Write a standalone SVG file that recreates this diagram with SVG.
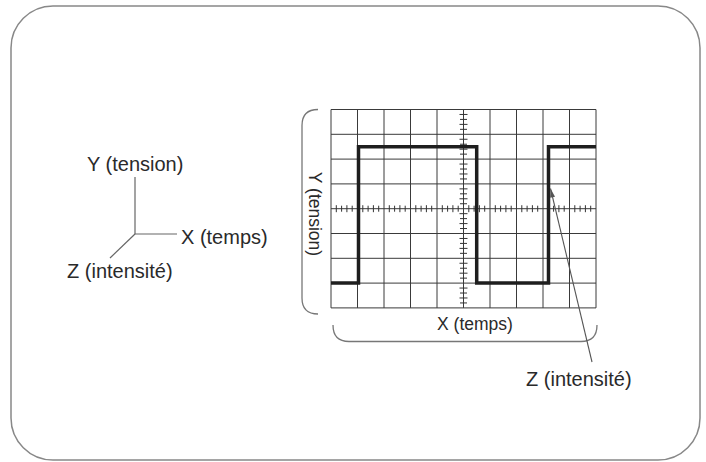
<svg xmlns="http://www.w3.org/2000/svg" width="706" height="462" viewBox="0 0 706 462">
<style>
  .lbl { font-family: "Liberation Sans", Arial, sans-serif; fill: #2a2a2a; }
  .big { font-size: 20px; }
  .small { font-size: 17.5px; }
  .grid line { stroke: #3a3a3a; stroke-width: 1; }
  .axis { stroke: #666; stroke-width: 1.2; fill: none; }
  .brace { stroke: #777; stroke-width: 1.3; fill: none; }
  .tick { stroke: #333; stroke-width: 1; }
</style>
<defs>
  <marker id="arr" markerWidth="10" markerHeight="8" refX="9" refY="3" orient="auto" markerUnits="userSpaceOnUse">
    <path d="M0,0.5 L9,3 L0,5.5 Z" fill="#555"/>
  </marker>
</defs>
<rect x="11" y="6" width="689" height="454" rx="42" ry="42" fill="#fff" stroke="#888" stroke-width="1.5"/>

<g id="axes-legend">
  <line class="axis" x1="135" y1="177" x2="135" y2="234"/>
  <line class="axis" x1="135" y1="234" x2="177" y2="234"/>
  <line class="axis" x1="135" y1="234" x2="110" y2="258"/>
  <text class="lbl big" x="87" y="171">Y (tension)</text>
  <text class="lbl big" x="181" y="244">X (temps)</text>
  <text class="lbl big" x="67" y="278">Z (intensité)</text>
</g>

<g id="screen">
  <g class="grid">
    <line x1="331" y1="109.5" x2="331" y2="307.9"/>
    <line x1="357.5" y1="109.5" x2="357.5" y2="307.9"/>
    <line x1="384" y1="109.5" x2="384" y2="307.9"/>
    <line x1="410.5" y1="109.5" x2="410.5" y2="307.9"/>
    <line x1="437" y1="109.5" x2="437" y2="307.9"/>
    <line x1="463.5" y1="109.5" x2="463.5" y2="307.9"/>
    <line x1="490" y1="109.5" x2="490" y2="307.9"/>
    <line x1="516.5" y1="109.5" x2="516.5" y2="307.9"/>
    <line x1="543" y1="109.5" x2="543" y2="307.9"/>
    <line x1="569.5" y1="109.5" x2="569.5" y2="307.9"/>
    <line x1="596" y1="109.5" x2="596" y2="307.9"/>
    <line x1="331" y1="109.5" x2="596" y2="109.5"/>
    <line x1="331" y1="134.3" x2="596" y2="134.3"/>
    <line x1="331" y1="159.1" x2="596" y2="159.1"/>
    <line x1="331" y1="183.9" x2="596" y2="183.9"/>
    <line x1="331" y1="208.7" x2="596" y2="208.7"/>
    <line x1="331" y1="233.5" x2="596" y2="233.5"/>
    <line x1="331" y1="258.3" x2="596" y2="258.3"/>
    <line x1="331" y1="283.1" x2="596" y2="283.1"/>
    <line x1="331" y1="307.9" x2="596" y2="307.9"/>
  </g>
  <path class="tick" d="M336.3,205.2v7 M341.6,205.7v6 M346.9,205.2v7 M352.2,205.7v6
    M362.8,205.2v7 M368.1,205.7v6 M373.4,205.2v7 M378.7,205.7v6
    M389.3,205.2v7 M394.6,205.7v6 M399.9,205.2v7 M405.2,205.7v6
    M415.8,205.2v7 M421.1,205.7v6 M426.4,205.2v7 M431.7,205.7v6
    M442.3,205.2v7 M447.6,205.7v6 M452.9,205.2v7 M458.2,205.7v6
    M468.8,205.2v7 M474.1,205.7v6 M479.4,205.2v7 M484.7,205.7v6
    M495.3,205.2v7 M500.6,205.7v6 M505.9,205.2v7 M511.2,205.7v6
    M521.8,205.2v7 M527.1,205.7v6 M532.4,205.2v7 M537.7,205.7v6
    M548.3,205.2v7 M553.6,205.7v6 M558.9,205.2v7 M564.2,205.7v6
    M574.8,205.2v7 M580.1,205.7v6 M585.4,205.2v7 M590.7,205.7v6"/>
  <path class="tick" d="M459.5,114.46h8 M460,119.42h7 M459.5,124.38h8 M460,129.34h7
    M459.5,139.26h8 M460,144.22h7 M459.5,149.18h8 M460,154.14h7
    M459.5,164.06h8 M460,169.02h7 M459.5,173.98h8 M460,178.94h7
    M459.5,188.86h8 M460,193.82h7 M459.5,198.78h8 M460,203.74h7
    M459.5,213.66h8 M460,218.62h7 M459.5,223.58h8 M460,228.54h7
    M459.5,238.46h8 M460,243.42h7 M459.5,248.38h8 M460,253.34h7
    M459.5,263.26h8 M460,268.22h7 M459.5,273.18h8 M460,278.14h7
    M459.5,288.06h8 M460,293.02h7 M459.5,297.98h8 M460,302.94h7"/>
  <path d="M331,283.1 H358.5 V146.7 H476.7 V283.1 H548.5 V146.7 H596" fill="none" stroke="#1e1e1e" stroke-width="3.5" stroke-linejoin="miter"/>
  <path class="brace" d="M318,109.5 Q302,109.5 302,125.5 L302,298 Q302,314 318,314"/>
  <path class="brace" d="M333,325 Q333,341.5 349,341.5 L581,341.5 Q597,341.5 597,325"/>
  <text class="lbl small" x="475" y="330" text-anchor="middle">X (temps)</text>
  <text class="lbl small" transform="translate(308.5,214) rotate(90)" text-anchor="middle">Y (tension)</text>
</g>

<g id="connectors">
  <line x1="592" y1="362" x2="550.5" y2="188.5" stroke="#555" stroke-width="1.1" marker-end="url(#arr)"/>
</g>

<g id="z-label">
  <text class="lbl big" x="526" y="386">Z (intensité)</text>
</g>
</svg>
